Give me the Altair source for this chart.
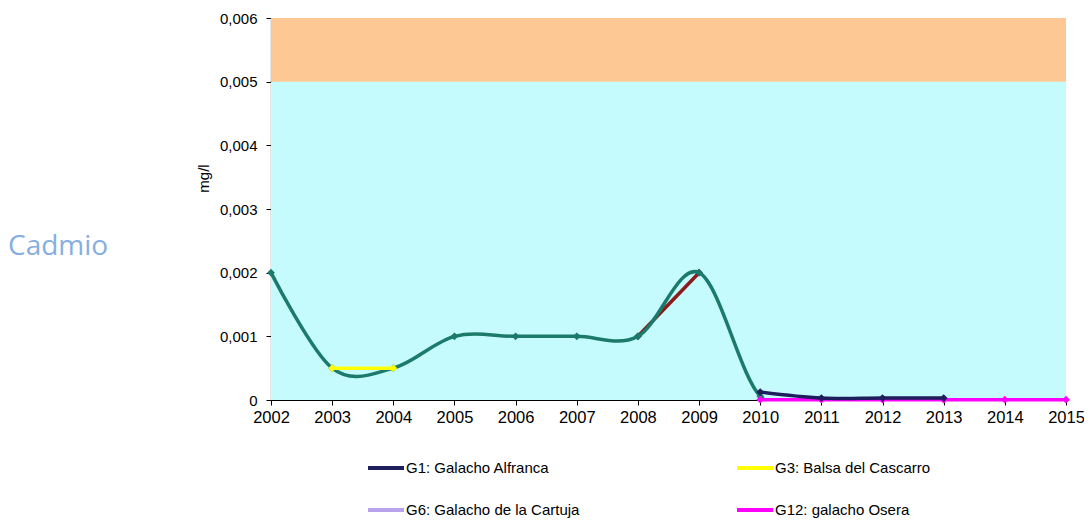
import altair as alt
import pandas as pd

# ---- data ----
years_teal = [2002, 2003, 2004, 2005, 2006, 2007, 2008, 2009, 2010, 2011]
vals_teal = [0.002, 0.0005, 0.0005, 0.001, 0.001, 0.001, 0.001, 0.002, 0.00006, 0.00002]

years_red = [2008, 2009]
vals_red = [0.001, 0.002]

years_g3 = [2003, 2004]
vals_g3 = [0.0005, 0.0005]

years_g1 = [2010, 2011, 2012, 2013]
vals_g1 = [0.000125, 0.00003, 0.00003, 0.00003]

years_g12 = [2010, 2011, 2012, 2013, 2014, 2015]
vals_g12 = [0.000005, 0.000005, 0.000005, 0.000005, 0.000005, 0.000005]

series_names = ["serie_roja", "serie_verde", "G1: Galacho Alfranca", "G3: Balsa del Cascarro",
                "G6: Galacho de la Cartuja", "G12: galacho Osera"]
series_colors = ["#8b1a1a", "#1b7a6a", "#1e1e5c", "#ffff00", "#b9a3ef", "#ff00ff"]
# column-major order so rows read: G1 | G3  /  G6 | G12
legend_names = ["G1: Galacho Alfranca", "G6: Galacho de la Cartuja",
                "G3: Balsa del Cascarro", "G12: galacho Osera"]

band_lo = [0.0, 0.005]
band_hi = [0.005, 0.006]
band_colors = ["#c6fbfd", "#fdc893"]
year_min, year_max = 2002, 2015
y_ticks = [0, 0.001, 0.002, 0.003, 0.004, 0.005, 0.006]

rows = []
for name, ys, vs in [("serie_roja", years_red, vals_red),
                     ("serie_verde", years_teal, vals_teal),
                     ("G3: Balsa del Cascarro", years_g3, vals_g3),
                     ("G12: galacho Osera", years_g12, vals_g12),
                     ("G1: Galacho Alfranca", years_g1, vals_g1)]:
    for y, v in zip(ys, vs):
        rows.append({"serie": name, "anio": y, "valor": v})
df = pd.DataFrame(rows)

bands = pd.DataFrame({"lo": band_lo, "hi": band_hi, "c": band_colors,
                      "x0": [year_min] * 2, "x1": [year_max] * 2})

W, H = 795, 382

xscale = alt.Scale(domain=[year_min, year_max], nice=False, zero=False)
yscale = alt.Scale(domain=[0, 0.006], nice=False)

band_layer = alt.Chart(bands).mark_rect().encode(
    x=alt.X("x0:Q", scale=xscale,
            axis=alt.Axis(values=list(range(year_min, year_max + 1)), format="d", title=None,
                          labelFontSize=16.5, tickSize=5, labelPadding=4, labelFlush=False,
                          labelOverlap=False)),
    x2="x1:Q",
    y=alt.Y("lo:Q", scale=yscale,
            axis=alt.Axis(values=y_ticks, title="mg/l", titleFontSize=15, titleFontWeight="normal",
                          labelFontSize=15, tickSize=5, labelPadding=9, titlePadding=8,
                          titleY=160, labelFlush=False,
                          labelExpr="datum.value == 0 ? '0' : replace(format(datum.value, '.3f'), '.', ',')")),
    y2="hi:Q",
    color=alt.Color("c:N", scale=None),
)

color_enc = alt.Color("serie:N", scale=alt.Scale(domain=series_names, range=series_colors),
                      legend=alt.Legend(values=legend_names, title=None, orient="none",
                                        legendX=95, legendY=430, columns=2,
                                        columnPadding=149, rowPadding=14,
                                        symbolType="stroke", symbolSize=1296,
                                        symbolStrokeWidth=4, labelFontSize=15,
                                        labelOffset=0, labelLimit=300))

layers = [band_layer]
for name in ["serie_roja", "serie_verde", "G3: Balsa del Cascarro", "G12: galacho Osera",
             "G1: Galacho Alfranca"]:
    lay = alt.Chart(df).transform_filter(alt.datum.serie == name).mark_line(
        interpolate="cardinal", strokeWidth=3.5, clip=(name == "serie_verde"),
        point=alt.OverlayMarkDef(shape="diamond", size=60, filled=True, clip=False)
    ).encode(
        x=alt.X("anio:Q", scale=xscale),
        y=alt.Y("valor:Q", scale=yscale),
        color=color_enc,
    )
    layers.append(lay)

title_df = pd.DataFrame({"t": ["Cadmio"]})
title_layer = alt.Chart(title_df).mark_text(
    align="left", baseline="alphabetic", font="Open Sans", fontSize=28, color="#86aee0"
).encode(text="t:N", x=alt.value(-263), y=alt.value(237))
layers.append(title_layer)

chart = alt.layer(*layers).properties(
    width=W, height=H,
    autosize=alt.AutoSizeParams(type="none"),
    padding={"left": 263, "top": 10, "right": 18, "bottom": 130},
).configure_view(stroke=None).configure_axis(
    grid=False, domainColor="black", tickColor="black", labelColor="black",
    titleColor="black", labelFont="Liberation Sans", titleFont="Liberation Sans",
    domainWidth=1.2,
).configure_legend(labelFont="Liberation Sans", labelColor="black")

chart.save("out.html", embed_options={"renderer": "svg", "actions": False})
